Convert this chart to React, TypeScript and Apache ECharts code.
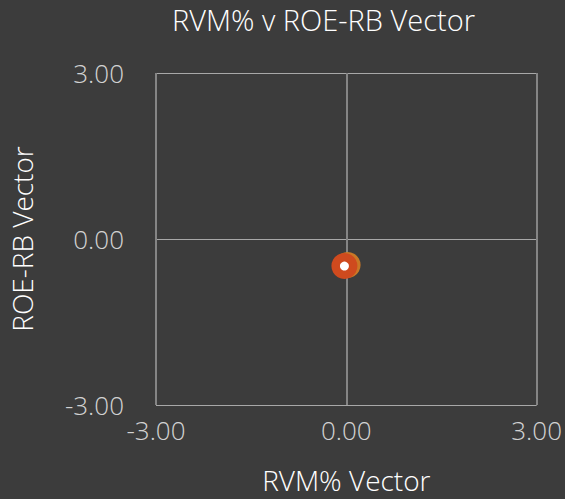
import React, { useEffect, useRef } from "react";
import * as echarts from "echarts";

const titleText = "RVM% v ROE-RB Vector";
const xName = "RVM% Vector";
const yName = "ROE-RB Vector";
const axisMin = -3;
const axisMax = 3;
const axisInterval = 3;
const backPoint: [number, number][] = [[0.02, -0.47]];
const frontPoint: [number, number][] = [[-0.03, -0.49]];

export default function App() {
  const ref = useRef<HTMLDivElement>(null);
  useEffect(() => {
    document.body.style.margin = "0";
    document.body.style.background = "#3c3c3c";
    if (!ref.current) return;
    const chart = echarts.init(ref.current, null, { renderer: "svg" });
    const font = "'Open Sans', 'Noto Sans', sans-serif";
    const fmt = (v: number) => v.toFixed(2);
    chart.setOption({
      animation: false,
      backgroundColor: "#3c3c3c",
      title: {
        text: titleText,
        left: 167,
        top: 0,
        textStyle: { color: "#ffffff", fontFamily: font, fontSize: 29, fontWeight: 300 },
      },
      grid: { left: 152, right: 27, top: 73, bottom: 93, containLabel: false },
      xAxis: {
        type: "value",
        min: axisMin,
        max: axisMax,
        interval: axisInterval,
        name: xName,
        nameLocation: "middle",
        nameGap: 61,
        nameTextStyle: { color: "#ffffff", fontFamily: font, fontSize: 28, fontWeight: 300 },
        axisLine: { show: false },
        axisTick: { show: false },
        axisLabel: { color: "#d2d2d2", fontFamily: font, fontSize: 26, fontWeight: 300, margin: 12, formatter: fmt },
        splitLine: { show: true, lineStyle: { color: "#858585", width: 2 } },
      },
      yAxis: {
        type: "value",
        min: axisMin,
        max: axisMax,
        interval: axisInterval,
        name: yName,
        nameLocation: "middle",
        nameGap: 120,
        nameRotate: 90,
        nameTextStyle: { color: "#ffffff", fontFamily: font, fontSize: 28, fontWeight: 300 },
        axisLine: { show: false },
        axisTick: { show: false },
        axisLabel: { color: "#d2d2d2", fontFamily: font, fontSize: 26, fontWeight: 300, margin: 32, formatter: fmt },
        splitLine: { show: true, lineStyle: { color: "#a8a8a8", width: 1 } },
      },
      series: [
        {
          type: "scatter",
          data: backPoint,
          symbolSize: 26,
          itemStyle: { color: "#c97826", opacity: 1 },
        },
        {
          type: "scatter",
          data: frontPoint,
          symbolSize: 26,
          itemStyle: { color: "#cf4a1e", opacity: 1 },
        },
        {
          type: "scatter",
          data: frontPoint,
          symbolSize: 9,
          itemStyle: { color: "#ffffff", opacity: 1 },
        },
      ],
    });
    return () => chart.dispose();
  }, []);
  return <div ref={ref} style={{ width: 565, height: 499 }} />;
}
